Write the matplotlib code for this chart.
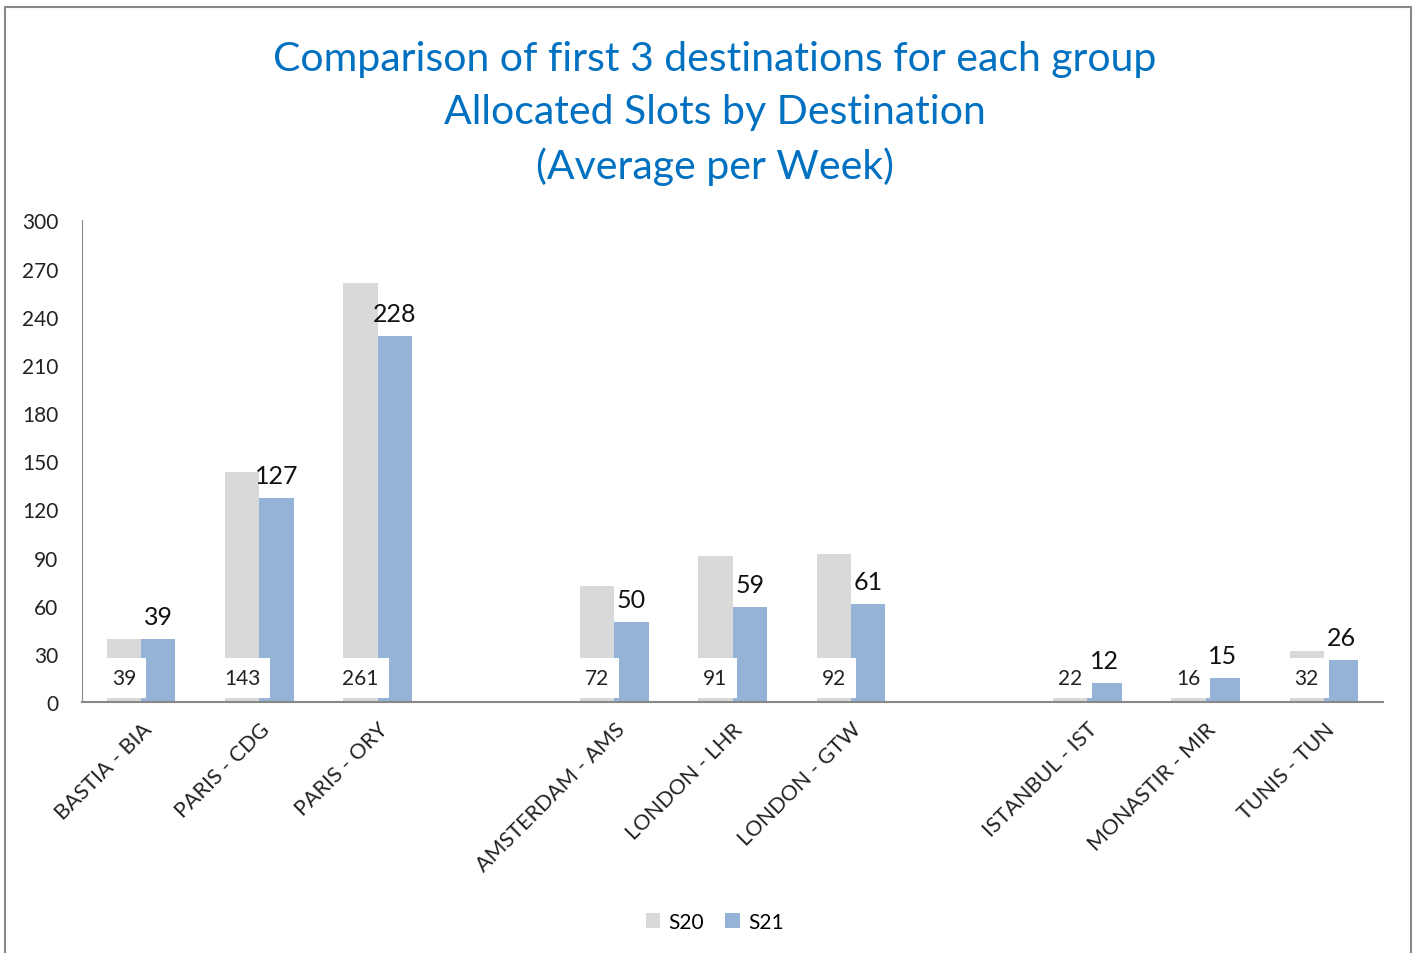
import numpy as np
import matplotlib.pyplot as plt
from matplotlib.patches import Rectangle

plt.rcParams['font.family'] = ['Lato', 'DejaVu Sans']

destinations = ['BASTIA - BIA', 'PARIS - CDG', 'PARIS - ORY',
                'AMSTERDAM - AMS', 'LONDON - LHR', 'LONDON - GTW',
                'ISTANBUL - IST', 'MONASTIR - MIR', 'TUNIS - TUN']
s20 = [39, 143, 261, 72, 91, 92, 22, 16, 32]
s21 = [39, 127, 228, 50, 59, 61, 12, 15, 26]
# slot index for each destination (empty slot between groups)
slots = [0, 1, 2, 4, 5, 6, 8, 9, 10]

gray = '#D9D9D9'
blue = '#95B3D7'
title_col = '#0070C0'

fig = plt.figure(figsize=(14.21, 9.54), dpi=100)
ax = fig.add_axes([0.0577, 0.263, 0.9156, 0.505])

x = np.array(slots, dtype=float)
w = 0.29
ax.bar(x - w / 2, s20, width=w, color=gray, label='S20', zorder=2)
ax.bar(x + w / 2, s21, width=w, color=blue, label='S21', zorder=2)

for xi, a, b in zip(x, s20, s21):
    ax.text(xi - w / 2, 15, str(a), ha='center', va='center', fontsize=15,
            color='#222222', zorder=5,
            bbox=dict(facecolor='white', edgecolor='none', pad=7))
    ax.text(xi + w / 2, b + 7, str(b), ha='center', va='bottom', fontsize=18,
            color='#111111', zorder=5)

ax.set_xlim(-0.5, 10.5)
ax.set_ylim(0, 300)
ax.set_yticks(np.arange(0, 301, 30))
ax.tick_params(axis='y', length=0, labelsize=15, pad=17, colors='#222222')
ax.set_xticks(x)
ax.set_xticklabels(destinations, rotation=45, ha='right', rotation_mode='anchor',
                   fontsize=15.5, color='#222222')
ax.tick_params(axis='x', length=0, pad=12)
for s in ['top', 'right']:
    ax.spines[s].set_visible(False)
ax.spines['left'].set_color('#888888')
ax.spines['bottom'].set_color('#888888')
ax.spines['bottom'].set_linewidth(1.5)

fig.text(0.503, 0.957, 'Comparison of first 3 destinations for each group\n'
         'Allocated Slots by Destination\n(Average per Week)',
         ha='center', va='top', fontsize=29.5, color=title_col, linespacing=1.52)

fig.legend(loc='center', bbox_to_anchor=(0.503, 0.033), ncol=2, frameon=False,
           fontsize=15, handlelength=0.7, handleheight=0.7, handletextpad=0.4,
           columnspacing=1.0)

fig.patches.append(Rectangle((0.0035, -0.01), 0.9895, 1.0016, transform=fig.transFigure,
                             fill=False, edgecolor='#888888', linewidth=1.5))

fig.savefig('out.png', dpi=100)
